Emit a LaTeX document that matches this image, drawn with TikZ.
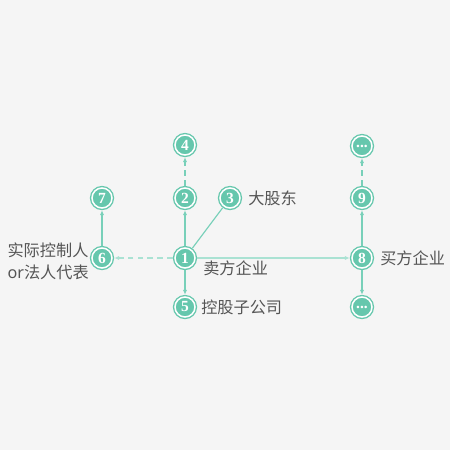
\documentclass[tikz,border=0pt]{standalone}
\usepackage{fontspec}
\usepackage{xcolor}
\usepackage{tikz}
\usetikzlibrary{arrows.meta}
\setmainfont{Liberation Serif}
\newfontfamily\cjk{Noto Sans CJK SC}
\definecolor{bggray}{RGB}{245,245,245}
\definecolor{holdteal}{RGB}{102,199,173}
\definecolor{linkteal}{RGB}{120,208,185}
\definecolor{softteal}{RGB}{170,226,211}
\definecolor{labelgray}{RGB}{85,85,85}

\begin{document}
\begin{tikzpicture}[x=0.025cm, y=-0.025cm,
  numnode/.style={circle, fill=holdteal, draw=white, line width=1.1pt,
    minimum size=0.5cm, inner sep=0pt, outer sep=1.6pt, text=white,
    font=\bfseries\fontsize{11}{11}\selectfont,
    preaction={draw=holdteal, line width=3pt}},
  tag/.style={text=labelgray, font=\cjk\fontsize{11.5}{15.6}\selectfont, inner sep=0pt},
  link/.style={draw=linkteal, line width=0.8pt, -{Latex[length=3.5pt, width=3pt]}},
  dashlink/.style={link, dashed, dash pattern=on 4pt off 3pt}
]
% background and frame
\fill[bggray] (0,0) rectangle (450,450);
\useasboundingbox (0,0) rectangle (450,450);

% seller side
\node[numnode] (n1) at (185,258) {1};
\node[numnode] (n2) at (185,198) {2};
\node[numnode] (n3) at (230,198) {3};
\node[numnode] (n4) at (185,145) {4};
\node[numnode] (n5) at (185,307) {5};
\node[numnode] (n6) at (102,258) {6};
\node[numnode] (n7) at (102,198) {7};

% buyer side
\node[numnode] (n8) at (362,258) {8};
\node[numnode] (n9) at (362,198) {9};
\node[numnode] (ntop) at (362,146) {...};
\node[numnode] (nbot) at (362,307) {...};

% labels
\node[tag, anchor=west] (l3) at (248,198) {大股东};
\node[tag, anchor=west] (l1) at (203,268) {卖方企业};
\node[tag, anchor=west] (l5) at (201,307) {控股子公司};
\node[tag, anchor=west] (l8) at (380,258) {买方企业};
\node[tag, anchor=east, align=left] (l6) at (89,261) {实际控制人\\\fontspec{Noto Sans}or\cjk 法人代表};

% connectors
\draw[link] (n1) -- (n2);
\draw[dashlink] (n2) -- (n4);
\draw[link, -] (n1) -- (n3);
\draw[link] (n1) -- (n5);
\draw[dashlink, draw=softteal] (n1) -- (n6);
\draw[link] (n6) -- (n7);
\draw[link, draw=softteal] (n1) -- (n8);
\draw[link] (n8) -- (n9);
\draw[dashlink] (n9) -- (ntop);
\draw[link] (n8) -- (nbot);
\end{tikzpicture}
\end{document}
